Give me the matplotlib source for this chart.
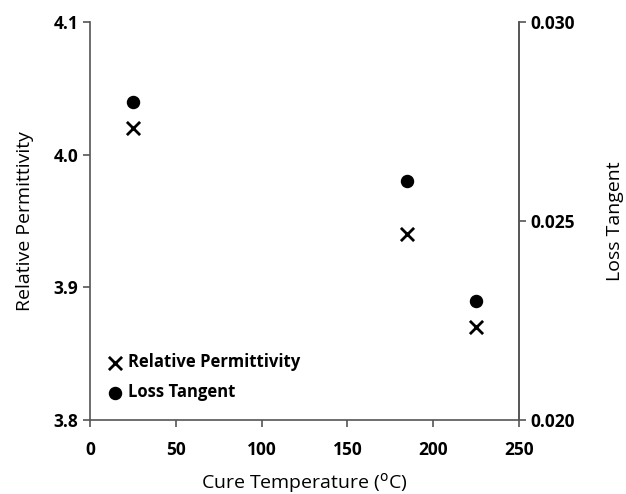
import matplotlib
matplotlib.use('Agg')
from matplotlib import pyplot as plt

cure_temp = [25, 185, 225]
permittivity = [4.02, 3.94, 3.87]
loss_tangent = [0.028, 0.026, 0.023]

plt.rcParams['font.family'] = ['Open Sans', 'DejaVu Sans']

fig = plt.figure(figsize=(6.26, 4.94), dpi=100)
ax = fig.add_axes([0.1438, 0.1498, 0.6852, 0.8057])
ax2 = ax.twinx()

h1 = ax.scatter(cure_temp, permittivity, marker='x', s=90, linewidths=2, color='black',
                label='Relative Permittivity', zorder=3)
h2 = ax2.scatter(cure_temp, loss_tangent, marker='o', s=75, color='black',
                 label='Loss Tangent', zorder=3)

ax.set_xlim(0, 250)
ax.set_ylim(3.8, 4.1)
ax2.set_ylim(0.020, 0.030)
ax.set_xticks([0, 50, 100, 150, 200, 250])
ax.set_yticks([3.8, 3.9, 4.0, 4.1])
ax2.set_yticks([0.020, 0.025, 0.030])
ax.set_yticklabels(['3.8', '3.9', '4.0', '4.1'])
ax2.set_yticklabels(['0.020', '0.025', '0.030'])

for a in (ax, ax2):
    a.spines['top'].set_visible(False)
    for sp in a.spines.values():
        sp.set_color('#555555')
        sp.set_linewidth(1.2)
    a.tick_params(direction='out', length=5, width=1.2, color='#555555', labelsize=12.5)
    for lbl in a.get_xticklabels() + a.get_yticklabels():
        lbl.set_fontweight('bold')
ax.tick_params(axis='x', pad=10)
ax2.spines['left'].set_visible(False)
ax2.spines['bottom'].set_visible(False)

ax.set_xlabel('Cure Temperature ($^{\\mathrm{o}}$C)', fontsize=14, labelpad=9)
ax.set_ylabel('Relative Permittivity', fontsize=14, labelpad=14)
ax2.set_ylabel('Loss Tangent', fontsize=14, labelpad=22)

leg = ax.legend(handles=[h1, h2], loc='lower left', bbox_to_anchor=(0.004, 0.01),
                frameon=False, handlelength=1.0, handletextpad=0.3, labelspacing=0.7,
                prop={'weight': 'bold', 'size': 12}, scatterpoints=1)

fig.savefig('out.png', dpi=100)
